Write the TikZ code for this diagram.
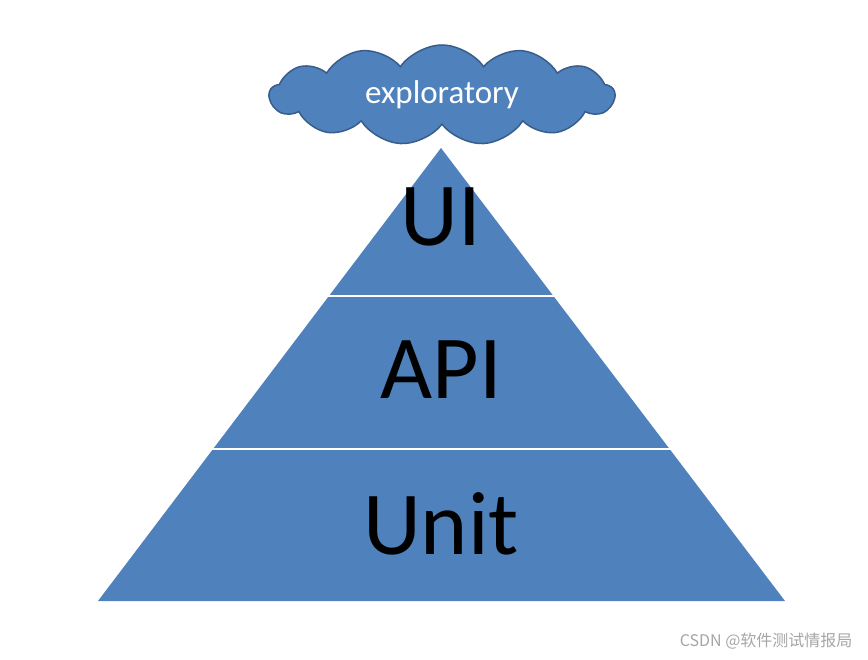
\documentclass[tikz,border=0pt]{standalone}
\usepackage{fontspec}
\setmainfont{Carlito}
\newfontfamily\cjk{Noto Sans CJK SC}
\usetikzlibrary{shapes.symbols}
\definecolor{pyr}{HTML}{4F81BD}
\definecolor{pyrb}{HTML}{385D8A}
\tikzset{lvl/.style={font=\fontsize{90}{90}\selectfont, text=black}}
\begin{document}
\begin{tikzpicture}[x=1pt,y=-1pt]
\useasboundingbox (0,0) rectangle (868,660);
\fill[white] (0,0) rectangle (868,660);
\coordinate (apex) at (441,148);
\coordinate (bl) at (98,601);
\coordinate (br) at (785,601);
\fill[pyr] (apex) -- (br) -- (bl) -- cycle;
\draw[white, line width=2pt] (326,296) -- (556,296);
\draw[white, line width=2pt] (210,449) -- (672,449);
\node[lvl] (ui) at (441,217) {UI};
\node[lvl] (api) at (441,370) {API};
\node[lvl] (unit) at (441,524) {Unit};
\node[cloud, cloud puffs=13, cloud puff arc=110, aspect=3.6, fill=pyr, draw=pyrb, line width=1.5pt,
  minimum width=345pt, minimum height=100pt, inner sep=0pt, text=white,
  font=\fontsize{33}{33}\selectfont] (cloud) at (442,95) {exploratory};
\node[anchor=east, text=gray!70, font=\cjk\fontsize{16}{16}\selectfont] (wm) at (856,641) {CSDN @软件测试情报局};
\end{tikzpicture}
\end{document}
